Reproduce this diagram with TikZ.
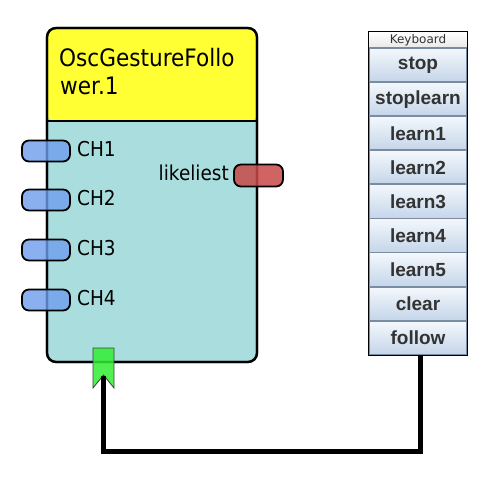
\documentclass[tikz,border=0pt]{standalone}
\usepackage{fontspec}
\newfontfamily\tah[FakeStretch=0.9]{DejaVu Sans}
\newfontfamily\kbd{Liberation Sans}
\newfontfamily\kbdtitle{DejaVu Sans}
\definecolor{hdryellow}{HTML}{FFFF33}
\definecolor{boxteal}{HTML}{AADEDE}
\definecolor{portblue}{HTML}{6F9DEC}
\definecolor{portred}{HTML}{C84848}
\definecolor{gategreen}{HTML}{33EE33}
\definecolor{btntop}{HTML}{F4F8FC}
\definecolor{btnbot}{HTML}{C4D5E9}
\definecolor{btnsep}{HTML}{7A8CA2}
\definecolor{kbtext}{HTML}{333333}
\definecolor{kbtitlebg}{HTML}{E8E8E8}
\tikzset{
  mainbox/.style={draw=black, line width=2.2pt, fill=boxteal, rounded corners=9pt,
    minimum width=210pt, minimum height=334pt, inner sep=0pt},
  inport/.style={draw=black, line width=1.8pt, fill=portblue, fill opacity=0.8,
    rounded corners=7pt, minimum width=48pt, minimum height=21pt, inner sep=0pt},
  outport/.style={draw=black, line width=1.8pt, fill=portred, fill opacity=0.85,
    rounded corners=7pt, minimum width=49pt, minimum height=22pt, inner sep=0pt},
  portlabel/.style={inner sep=0pt, font=\tah\fontsize{20.5}{24}\selectfont},
  titletext/.style={inner sep=0pt, anchor=base west, font=\tah\fontsize{24}{28}\selectfont},
  kbtn/.style={minimum width=98pt, minimum height=34.1pt, inner sep=0pt,
    top color=btntop, bottom color=btnbot, draw=btnsep, line width=1.8pt,
    text=kbtext, font=\kbd\bfseries\fontsize{19}{19}\selectfont},
  kbhead/.style={minimum width=98pt, minimum height=16pt, inner sep=0pt,
    top color=white, bottom color=kbtitlebg, text=kbtext,
    font=\kbdtitle\fontsize{12}{13}\selectfont},
  wire/.style={line width=5pt, draw=black}
}
\begin{document}
\begin{tikzpicture}[x=1pt,y=-1pt]
\useasboundingbox[fill=white] (0,0) rectangle (495,494);

% main block
\node[mainbox, path picture={
   \fill[hdryellow] (path picture bounding box.north west) rectangle
     ([yshift=-94pt]path picture bounding box.north east);}] (box) at (152,195) {};
\draw[line width=2.2pt] ([yshift=-94pt]box.north west) -- ([yshift=-94pt]box.north east);
\node[mainbox, fill=none] (boxframe) at (152,195) {};

\node[titletext] (title1) at (59,67) {OscGestureFollo};
\node[titletext] (title2) at (60,95) {wer.1};

% input ports
\node[inport] (ch1) at (46,151) {};
\node[inport] (ch2) at (46,200) {};
\node[inport] (ch3) at (46,250) {};
\node[inport] (ch4) at (46,300) {};
\node[portlabel, anchor=base west] (lch1) at (77,156.5) {CH1};
\node[portlabel, anchor=base west] (lch2) at (77,205.5) {CH2};
\node[portlabel, anchor=base west] (lch3) at (77,255.5) {CH3};
\node[portlabel, anchor=base west] (lch4) at (77,305.5) {CH4};

% output port
\node[outport] (likeliest) at (258.5,175.5) {};
\node[portlabel, anchor=base east] (llikeliest) at (229,181) {likeliest};

% trigger gate
\fill[gategreen, fill opacity=0.85, draw=black!75, line width=0.8pt]
  (93,348) -- (114,348) -- (114,388) -- (103.5,375) -- (93,388) -- cycle;
\coordinate (gatein) at (103.5,376);

% keyboard
\node[kbhead] (kbtitle) at (418,40) {Keyboard};
\foreach \lbl [count=\i from 0] in {stop,stoplearn,learn1,learn2,learn3,learn4,learn5,clear,follow}{
  \node[kbtn] (k\lbl) at (418,{48+34.1*(\i+0.5)}) {\lbl};
}
\draw[line width=1pt, draw=black] (kbtitle.north west) rectangle (kfollow.south east);

% connector
\coordinate (bend) at (0,451.5);
\draw[wire] ([xshift=2.5pt]kfollow.south) -- ([xshift=2.5pt]kfollow.south |- bend) -| (gatein);
\end{tikzpicture}
\end{document}
